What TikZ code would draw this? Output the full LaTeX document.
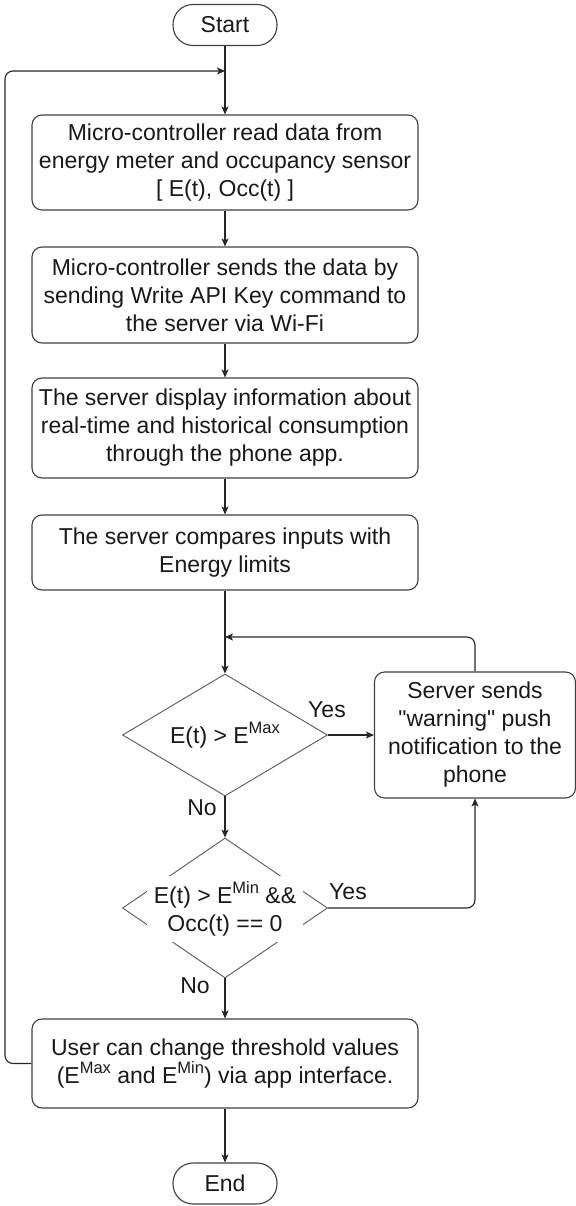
\documentclass[tikz,border=0pt]{standalone}
\usepackage{fontspec}
\setmainfont{Liberation Sans}[Ligatures=TeXOff]
\usetikzlibrary{shapes.geometric,arrows.meta}
\newcommand{\supx}[1]{\raisebox{0.42em}{\fontsize{16.5}{16.5}\selectfont #1}}
\begin{document}
\begin{tikzpicture}[x=1pt,y=-1pt,
  every node/.style={font=\fontsize{23}{28}\selectfont, text=black!90},
  box/.style={draw=black!75, line width=1.1pt, rounded corners=10pt, minimum width=386pt, align=center, inner sep=0pt},
  term/.style={draw=black!75, line width=1.1pt, rounded corners=20pt, minimum width=104pt, minimum height=41pt, inner sep=0pt},
  dia/.style={draw=black!65, line width=0.9pt, shape=diamond, minimum width=205pt, inner sep=0pt},
  conn/.style={draw=black!85, line width=1.1pt, -{Stealth[length=8pt,width=7pt,inset=2pt]}},
  lbl/.style={inner sep=0pt}]
\useasboundingbox (0,0) rectangle (575,1206);

\node[term] (start) at (225,25) {Start};
\node[box, minimum height=95pt] (b1) at (225,162.5) {Micro-controller read data from\\energy meter and occupancy sensor\\{[} E(t), Occ(t) ]};
\node[box, minimum height=96pt] (b2) at (225,295) {Micro-controller sends the data by\\sending Write API Key command to\\the server via Wi-Fi};
\node[box, minimum height=100pt] (b3) at (225,428) {The server display information about\\real-time and historical consumption\\through the phone app.};
\node[box, minimum height=75pt] (b4) at (225,552.5) {The server compares inputs with\\Energy limits};

\node[dia, minimum height=122pt] (d1) at (225,735) {};
\node[lbl] (d1t) at (225,735) {E(t) > E\supx{Max}};

\node[draw=black!75, line width=1.1pt, rounded corners=10pt, minimum width=201pt, minimum height=126pt, align=center, inner sep=0pt] (srv) at (475,735) {Server sends\\"warning" push\\notification to the\\phone};

\node[dia, minimum height=140pt] (d2) at (225,908) {};
\node[fill=white, minimum width=156pt, minimum height=66pt, inner sep=0pt, align=center] (d2t) at (225,909) {E(t) > E\supx{Min} \&\&\\Occ(t) == 0};

\node[box, minimum height=89pt] (b5) at (225,1063.5) {User can change threshold values\\(E\supx{Max} and E\supx{Min}) via app interface.};
\node[term] (stop) at (225,1183.5) {End};

\node[lbl] (y1) at (327,710) {Yes};
\node[lbl] (n1) at (202,808) {No};
\node[lbl] (y2) at (348,892) {Yes};
\node[lbl] (n2) at (195,986) {No};

\coordinate (lp) at (225,71);
\coordinate (fb) at (225,637);
\coordinate (lx) at (5,0);

\draw[conn] (start) -- (b1);
\draw[conn] (b1) -- (b2);
\draw[conn] (b2) -- (b3);
\draw[conn] (b3) -- (b4);
\draw[conn] (b4) -- (d1);
\draw[conn] (d1.east) -- (srv.west);
\draw[conn] (d1.south) -- (d2.north);
\draw[conn, rounded corners=8pt] (d2.east) -| (srv.south);
\draw[conn, rounded corners=8pt] (srv.north) |- (fb);
\draw[conn] (d2.south) -- (b5.north);
\draw[conn] (b5.south) -- (stop.north);
\draw[conn, rounded corners=8pt] (b5.west) -- (b5.west -| lx) |- (lp);
\end{tikzpicture}
\end{document}
